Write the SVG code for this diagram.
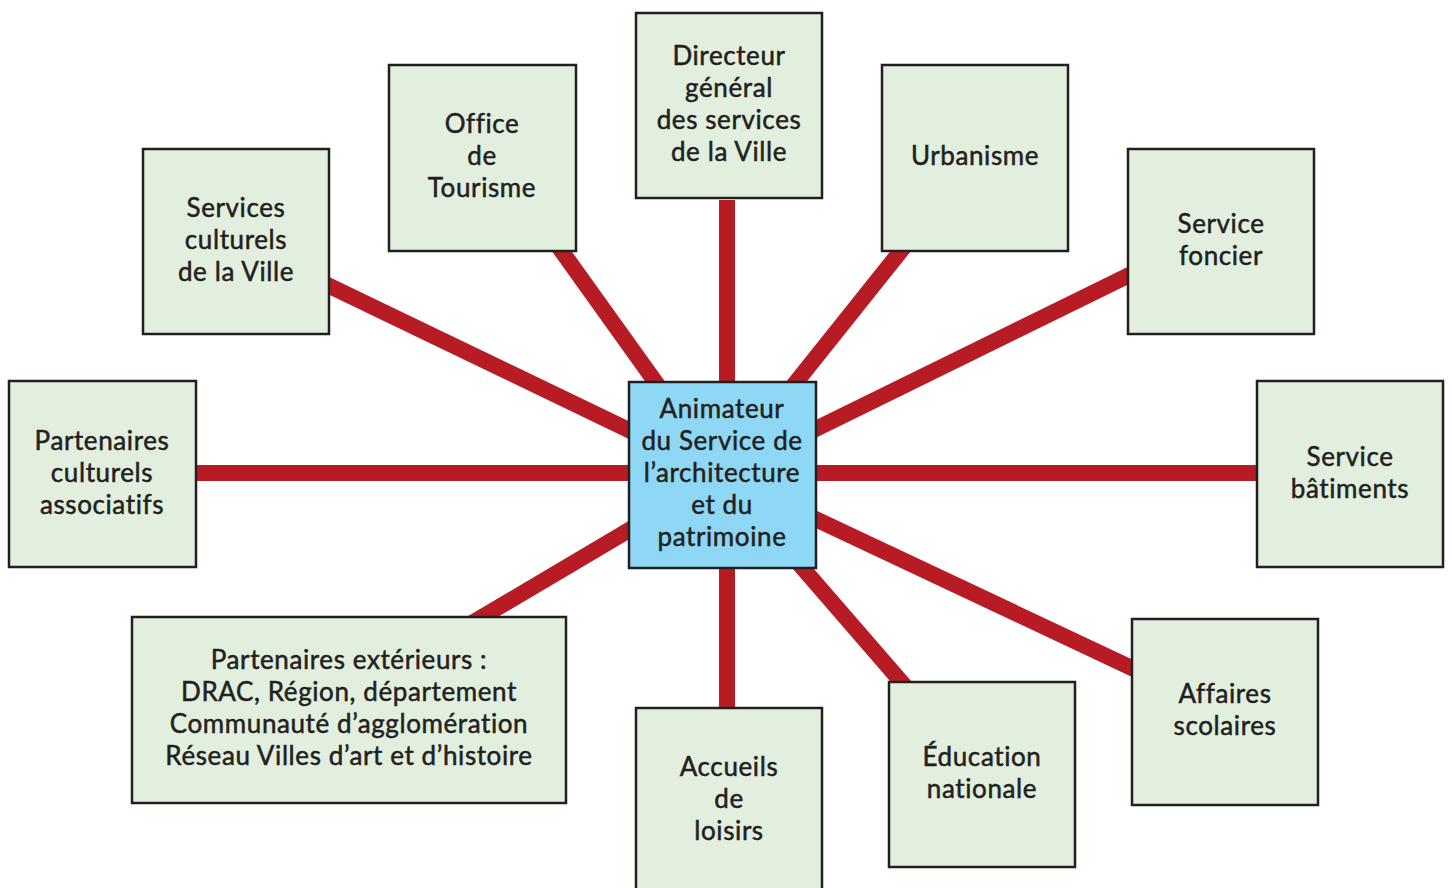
<svg xmlns="http://www.w3.org/2000/svg" width="1452" height="888" viewBox="0 0 1452 888">
<style>
.box{fill:#e2efdf;stroke:#231f20;stroke-width:2.5}
.hub{fill:#8ed8f5;stroke:#231f20;stroke-width:2.5}
.t{font-family:Lato,"Liberation Sans",sans-serif;font-size:26px;letter-spacing:0.6px;fill:#231f20;stroke:#231f20;stroke-width:0.5;text-anchor:middle}
.c{stroke:#b71c24;stroke-width:16;fill:none}
</style>
<rect width="1452" height="888" fill="#ffffff"/>
<g id="connectors">
<line class="c" x1="727" y1="200" x2="727" y2="475"/>
<line class="c" x1="495" y1="158" x2="722" y2="475"/>
<line class="c" x1="975" y1="158" x2="722" y2="475"/>
<line class="c" x1="236" y1="241" x2="722" y2="475"/>
<line class="c" x1="1221" y1="230" x2="722" y2="475"/>
<line class="c" x1="102" y1="473" x2="1350" y2="473"/>
<line class="c" x1="325" y1="710" x2="722" y2="475"/>
<line class="c" x1="727" y1="475" x2="727" y2="800"/>
<line class="c" x1="982" y1="775" x2="722" y2="475"/>
<line class="c" x1="1225" y1="712" x2="722" y2="475"/>
</g>
<g id="directeur"><rect class="box" x="636" y="13" width="186" height="185"/>
<text class="t" x="729" y="65">Directeur</text><text class="t" x="729" y="97">général</text><text class="t" x="729" y="129">des services</text><text class="t" x="729" y="161">de la Ville</text></g>
<g id="office"><rect class="box" x="389" y="65" width="187" height="186"/>
<text class="t" x="482" y="133">Office</text><text class="t" x="482" y="165">de</text><text class="t" x="482" y="197">Tourisme</text></g>
<g id="urbanisme"><rect class="box" x="882" y="65" width="186" height="186"/>
<text class="t" x="975" y="165">Urbanisme</text></g>
<g id="services-culturels"><rect class="box" x="143" y="149" width="186" height="185"/>
<text class="t" x="236" y="217">Services</text><text class="t" x="236" y="249">culturels</text><text class="t" x="236" y="281">de la Ville</text></g>
<g id="service-foncier"><rect class="box" x="1128" y="149" width="186" height="185"/>
<text class="t" x="1221" y="233">Service</text><text class="t" x="1221" y="265">foncier</text></g>
<g id="partenaires-culturels"><rect class="box" x="9" y="381" width="187" height="186"/>
<text class="t" x="102" y="450">Partenaires</text><text class="t" x="102" y="482">culturels</text><text class="t" x="102" y="514">associatifs</text></g>
<g id="service-batiments"><rect class="box" x="1257" y="381" width="186" height="186"/>
<text class="t" x="1350" y="466">Service</text><text class="t" x="1350" y="498">bâtiments</text></g>
<g id="partenaires-exterieurs"><rect class="box" x="132" y="617" width="434" height="186"/>
<text class="t" x="349" y="669">Partenaires extérieurs :</text><text class="t" x="349" y="701">DRAC, Région, département</text><text class="t" x="349" y="733">Communauté d’agglomération</text><text class="t" x="349" y="765">Réseau Villes d’art et d’histoire</text></g>
<g id="accueils"><rect class="box" x="636" y="708" width="186" height="200"/>
<text class="t" x="729" y="776">Accueils</text><text class="t" x="729" y="808">de</text><text class="t" x="729" y="840">loisirs</text></g>
<g id="education"><rect class="box" x="889" y="682" width="186" height="185"/>
<text class="t" x="982" y="766">Éducation</text><text class="t" x="982" y="798">nationale</text></g>
<g id="affaires-scolaires"><rect class="box" x="1132" y="619" width="186" height="186"/>
<text class="t" x="1225" y="703">Affaires</text><text class="t" x="1225" y="735">scolaires</text></g>
<g id="animateur"><rect class="hub" x="629" y="382" width="187" height="186"/>
<text class="t" x="722" y="418">Animateur</text><text class="t" x="722" y="450">du Service de</text><text class="t" x="722" y="482">l’architecture</text><text class="t" x="722" y="514">et du</text><text class="t" x="722" y="546">patrimoine</text></g>
</svg>
